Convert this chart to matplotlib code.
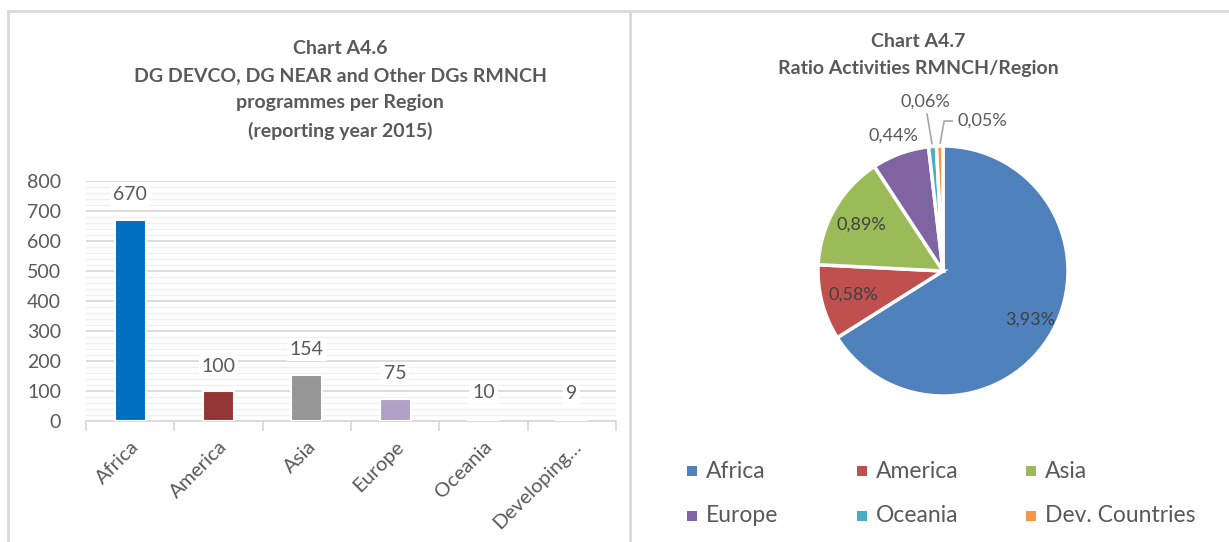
import numpy as np
import matplotlib
matplotlib.use("Agg")
from matplotlib import pyplot as plt
from matplotlib.patches import Rectangle
from matplotlib.lines import Line2D

plt.rcParams['font.family'] = ['Lato', 'DejaVu Sans']

# Chart A4.6 - programmes per region
bar_labels = ["Africa", "America", "Asia", "Europe", "Oceania", "Developing\u2026"]
bar_values = [670, 100, 154, 75, 10, 9]
bar_colors = ["#0070C0", "#943634", "#969696", "#B2A1C7", "#FFFFFF", "#FFFFFF"]

# Chart A4.7 - ratio activities per region (%)
pie_labels = ["Africa", "America", "Asia", "Europe", "Oceania", "Dev. Countries"]
pie_values = [3.93, 0.58, 0.89, 0.44, 0.06, 0.05]
pie_text = ["3,93%", "0,58%", "0,89%", "0,44%", "0,06%", "0,05%"]
pie_colors = ["#4F81BD", "#C0504D", "#9BBB59", "#8064A2", "#4BACC6", "#F79646"]

W, H = 1229, 542
fig = plt.figure(figsize=(W / 100, H / 100), dpi=100)
grey = "#595959"


def px(x, y, w, h):
    # pixel box (top-left origin) -> figure fraction
    return [x / W, 1 - (y + h) / H, w / W, h / H]


# panel borders
border = "#D9D9D9"
fig.add_artist(Line2D([8 / W, 1], [1 - 11 / H] * 2, color=border, lw=2))
fig.add_artist(Line2D([8 / W] * 2, [0, 1 - 11 / H], color=border, lw=2))
fig.add_artist(Line2D([630 / W] * 2, [0, 1 - 11 / H], color=border, lw=2))

# ---------------- bar chart ----------------
ax = fig.add_axes(px(86, 181, 530, 240))
x = np.arange(len(bar_values))
bars = ax.bar(x, bar_values, width=0.35, color=bar_colors, edgecolor="white", linewidth=1.5, zorder=3)
ax.set_xlim(-0.5, len(bar_values) - 0.5)
ax.set_ylim(0, 800)
ax.set_yticks(range(0, 801, 100))
ax.set_yticks(range(0, 801, 20), minor=True)
ax.grid(axis='y', which='major', color="#D9D9D9", lw=1.3, zorder=0)
ax.grid(axis='y', which='minor', color="#F0F0F0", lw=1.0, zorder=0)
for s in ["top", "right", "left"]:
    ax.spines[s].set_visible(False)
ax.spines["bottom"].set_color("#D9D9D9")
ax.spines["bottom"].set_linewidth(1.3)
ax.tick_params(axis='y', which='both', length=0, labelsize=14, labelcolor=grey, pad=18)
ax.set_xticks(x)
ax.set_xticklabels(bar_labels, rotation=45, ha='right', va='top', rotation_mode='anchor')
ax.tick_params(axis='x', which='major', length=0, labelsize=14.5, labelcolor=grey, pad=12)
ax.set_xticks(np.arange(-0.5, len(bar_values)), minor=True)
ax.tick_params(axis='x', which='minor', length=7, color="#D9D9D9", width=1.3)

for b, v in zip(bars, bar_values):
    ax.annotate(str(v), (b.get_x() + b.get_width() / 2, v), xytext=(0, 18),
                textcoords='offset points', ha='center', va='center', fontsize=14, color=grey,
                bbox=dict(boxstyle='square,pad=0.15', fc='white', ec='none'), zorder=4)

fig.text(340 / W, 1 - 90 / H,
         "Chart A4.6\nDG DEVCO, DG NEAR and Other DGs RMNCH\nprogrammes per Region\n(reporting year 2015)",
         ha='center', va='center', fontsize=14, fontweight='bold', color=grey, linespacing=1.72)

# ---------------- pie chart ----------------
pax = fig.add_axes(px(943 - 150, 271 - 150, 300, 300))
wedges, _ = pax.pie(pie_values, colors=pie_colors, startangle=90, counterclock=False,
                    wedgeprops=dict(edgecolor="white", linewidth=2.5))
pax.set_xlim(-1.2, 1.2)
pax.set_ylim(-1.2, 1.2)
pax.set_aspect('equal')
pax.axis('off')

label_r = [0.8, 0.74, 0.75, 1.15]
for i, w in enumerate(wedges):
    mid = np.deg2rad((w.theta1 + w.theta2) / 2)
    if i < 4:
        pax.text(label_r[i] * np.cos(mid), label_r[i] * np.sin(mid), pie_text[i],
                 ha='center', va='center', fontsize=13, color="#404040" if i < 3 else grey)
    elif i == 4:
        pax.annotate(pie_text[i], (np.cos(mid), np.sin(mid)),
                     xytext=(1.35 * np.cos(mid) - 0.03, 1.29), ha='center', va='bottom',
                     fontsize=13, color=grey,
                     arrowprops=dict(arrowstyle='-', color="#A6A6A6", lw=1.2, shrinkA=1, shrinkB=2))
    else:
        pax.annotate(pie_text[i], (np.cos(mid), np.sin(mid)),
                     xytext=(0.12, 1.2), ha='left', va='center',
                     fontsize=13, color=grey,
                     arrowprops=dict(arrowstyle='-', color="#A6A6A6", lw=1.2, shrinkA=2, shrinkB=2,
                                     connectionstyle='angle,angleA=0,angleB=80,rad=0'))

fig.text(918 / W, 1 - 55 / H, "Chart A4.7\nRatio Activities RMNCH/Region",
         ha='center', va='center', fontsize=14, fontweight='bold', color=grey, linespacing=1.72)

# legend (3 columns x 2 rows)
col_x = [692, 862, 1031]
row_y = [471, 516]
for i, (name, c) in enumerate(zip(pie_labels, pie_colors)):
    cx, cy = col_x[i % 3], row_y[i // 3]
    fig.add_artist(Rectangle(((cx - 5) / W, 1 - (cy + 5) / H), 10 / W, 10 / H,
                             facecolor=c, edgecolor='none', transform=fig.transFigure))
    fig.text((cx + 14) / W, 1 - cy / H, name, ha='left', va='center', fontsize=16.5, color=grey)

fig.savefig("out.png", dpi=100)
